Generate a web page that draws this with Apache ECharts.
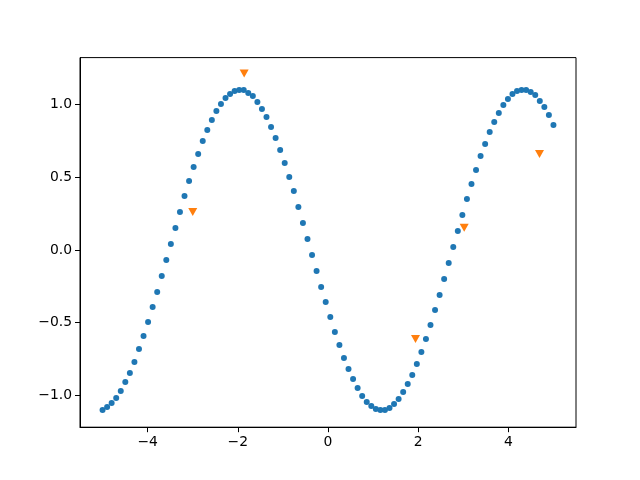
<!DOCTYPE html>
<html><head><meta charset="utf-8">
<script src="https://cdn.jsdelivr.net/npm/echarts@6/dist/echarts.min.js"></script>
<style>html,body{margin:0;padding:0;background:#fff}#c{width:640px;height:480px}</style>
</head><body><div id="c"></div>
<script>
var xValues = [-5.000,-4.899,-4.798,-4.697,-4.596,-4.495,-4.394,-4.293,-4.192,-4.091,
-3.990,-3.889,-3.788,-3.687,-3.586,-3.485,-3.384,-3.283,-3.182,-3.081,
-2.980,-2.879,-2.778,-2.677,-2.576,-2.475,-2.374,-2.273,-2.172,-2.071,
-1.970,-1.869,-1.768,-1.667,-1.566,-1.465,-1.364,-1.263,-1.162,-1.061,
-0.960,-0.859,-0.758,-0.657,-0.556,-0.455,-0.354,-0.253,-0.152,-0.051,
0.051,0.152,0.253,0.354,0.455,0.556,0.657,0.758,0.859,0.960,
1.061,1.162,1.263,1.364,1.465,1.566,1.667,1.768,1.869,1.970,
2.071,2.172,2.273,2.374,2.475,2.576,2.677,2.778,2.879,2.980,
3.081,3.182,3.283,3.384,3.485,3.586,3.687,3.788,3.889,3.990,
4.091,4.192,4.293,4.394,4.495,4.596,4.697,4.798,4.899,5.000];
var yValues = [-1.100,-1.079,-1.052,-1.017,-0.969,-0.907,-0.845,-0.770,-0.680,-0.591,
-0.495,-0.392,-0.289,-0.179,-0.069,0.041,0.151,0.261,0.371,0.474,
0.570,0.660,0.749,0.825,0.893,0.955,1.003,1.045,1.072,1.093,
1.100,1.100,1.079,1.058,1.017,0.969,0.914,0.845,0.770,0.687,
0.598,0.502,0.405,0.296,0.186,0.076,-0.034,-0.144,-0.254,-0.357,
-0.460,-0.564,-0.653,-0.742,-0.818,-0.887,-0.948,-1.003,-1.045,-1.072,
-1.093,-1.100,-1.100,-1.086,-1.058,-1.024,-0.976,-0.921,-0.859,-0.784,
-0.701,-0.612,-0.515,-0.412,-0.309,-0.199,-0.089,0.021,0.131,0.240,
0.350,0.454,0.550,0.646,0.729,0.811,0.880,0.941,0.997,1.038,
1.072,1.093,1.100,1.100,1.086,1.065,1.024,0.983,0.928,0.859];
var triX = [-3.00, -1.86, 1.94, 3.02, 4.69];
var triY = [0.261, 1.212, -0.612, 0.153, 0.660];
var xTicks = [-4, -2, 0, 2, 4];
var yTicks = [-1.0, -0.5, 0.0, 0.5, 1.0];

function pairs(xs, ys){ return xs.map(function(v,i){ return [v, ys[i]]; }); }
function minus(s){ return String(s).replace('-', '\u2212'); }

var chart = echarts.init(document.getElementById('c'), null, {renderer:'canvas'});
var font = 'DejaVu Sans';
chart.setOption({
  animation:false,
  backgroundColor:'#fff',
  grid:{left:80, right:64, top:57.6, bottom:52.8, show:true, borderColor:'#000', borderWidth:1, backgroundColor:'transparent'},
  xAxis:{type:'value', min:-5.5, max:5.5,
    axisLine:{show:true, onZero:false, lineStyle:{color:'#000', width:1}},
    axisTick:{show:true, length:5, inside:false, customValues:xTicks, lineStyle:{color:'#000'}},
    axisLabel:{customValues:xTicks, margin:8, color:'#000', fontFamily:font, fontSize:13.9,
      formatter:function(v){ return minus(v); }},
    splitLine:{show:false}},
  yAxis:{type:'value', min:-1.218, max:1.322,
    axisLine:{show:true, onZero:false, lineStyle:{color:'#000', width:1}},
    axisTick:{show:true, length:5, inside:false, customValues:yTicks, lineStyle:{color:'#000'}},
    axisLabel:{customValues:yTicks, margin:8, color:'#000', fontFamily:font, fontSize:13.9,
      formatter:function(v){ return minus(Number(v).toFixed(1)); }},
    splitLine:{show:false}},
  series:[
    {type:'scatter', data:pairs(xValues, yValues), symbol:'circle', symbolSize:6,
     itemStyle:{color:'#1f77b4', opacity:1}},
    {type:'scatter', data:pairs(triX, triY), symbol:'triangle', symbolRotate:180, symbolSize:[9,8],
     itemStyle:{color:'#ff7f0e', opacity:1}}
  ]
});
</script></body></html>
